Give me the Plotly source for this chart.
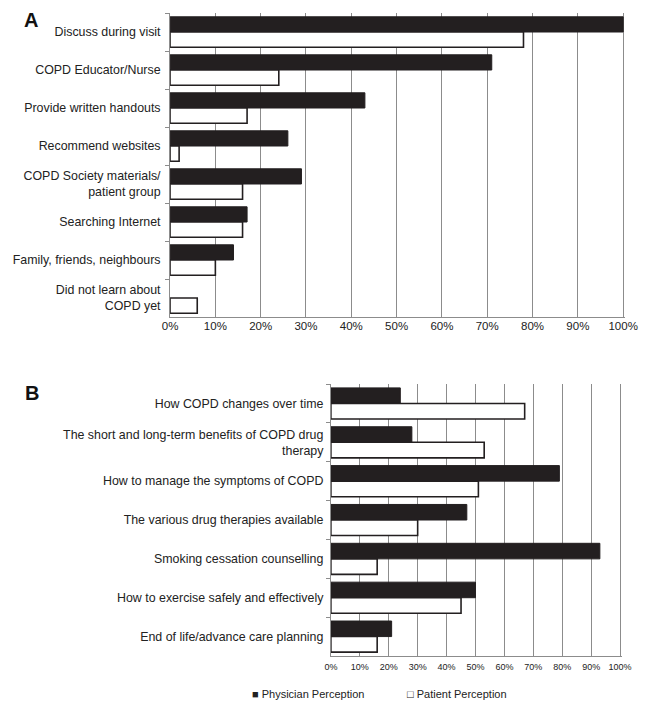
import plotly.graph_objects as go

W, H = 659, 710
OFF = 8  # page body margin
FW, FH = W - 2 * OFF, H - 2 * OFF

# Panel A data
cats_a = ["Discuss during visit", "COPD Educator/Nurse", "Provide written handouts",
          "Recommend websites", "COPD Society materials/<br>patient group",
          "Searching Internet", "Family, friends, neighbours",
          "Did not learn about<br>COPD yet"]
phys_a = [100, 71, 43, 26, 29, 17, 14, 0]
pat_a = [78, 24, 17, 2, 16, 16, 10, 6]

# Panel B data
cats_b = ["How COPD changes over time",
          "The short and long-term benefits of COPD drug<br>therapy",
          "How to manage the symptoms of COPD",
          "The various drug therapies available",
          "Smoking cessation counselling",
          "How to exercise safely and effectively",
          "End of life/advance care planning"]
phys_b = [24, 28, 79, 47, 93, 50, 21]
pat_b = [67, 53, 51, 30, 16, 45, 16]

tick_vals = [0, 10, 20, 30, 40, 50, 60, 70, 80, 90, 100]
tick_text = [f"{v}%" for v in tick_vals]

DARK = "#231f20"
GRID = "#8c8c8c"
TXT = "#222222"
FONT = "Arial, Liberation Sans, sans-serif"

def px_x(p):
    return (p - OFF) / FW

def px_y(p):
    return 1 - (p - OFF) / FH

def lw(vals, w):
    return [w if v > 0 else 0 for v in vals]

fig = go.Figure()

fig.add_trace(go.Bar(y=cats_a, x=phys_a, orientation="h", name="Physician Perception",
                     marker=dict(color=DARK, line=dict(color=DARK, width=lw(phys_a, 1))),
                     xaxis="x", yaxis="y", showlegend=False))
fig.add_trace(go.Bar(y=cats_a, x=pat_a, orientation="h", name="Patient Perception",
                     marker=dict(color="white", line=dict(color=DARK, width=lw(pat_a, 1.6))),
                     xaxis="x", yaxis="y", showlegend=False))
fig.add_trace(go.Bar(y=cats_b, x=phys_b, orientation="h", name="Physician Perception",
                     marker=dict(color=DARK, line=dict(color=DARK, width=lw(phys_b, 1))),
                     xaxis="x2", yaxis="y2", showlegend=False))
fig.add_trace(go.Bar(y=cats_b, x=pat_b, orientation="h", name="Patient Perception",
                     marker=dict(color="white", line=dict(color=DARK, width=lw(pat_b, 1.6))),
                     xaxis="x2", yaxis="y2", showlegend=False))

xcommon = dict(range=[0, 100.5], tickmode="array", tickvals=tick_vals, ticktext=tick_text,
               showgrid=True, gridcolor=GRID, gridwidth=1, showline=True, linecolor=GRID,
               linewidth=1, zeroline=False, ticks="", fixedrange=True)
ycommon = dict(autorange="reversed", showline=True, linecolor=GRID, linewidth=1,
               ticks="outside", ticklen=4, tickcolor=GRID, tickson="boundaries",
               showgrid=False, fixedrange=True)

fig.update_layout(
    width=FW, height=FH,
    margin=dict(l=0, r=0, t=0, b=0),
    paper_bgcolor="white", plot_bgcolor="white",
    barmode="group", bargap=0.2, bargroupgap=0.0,
    font=dict(family=FONT, color=TXT),
    showlegend=False,
    xaxis=dict(domain=[px_x(167), px_x(637)], anchor="y", ticklabelstandoff=-2,
               tickfont=dict(size=11.5, color=TXT), **xcommon),
    yaxis=dict(domain=[px_y(317), px_y(13)], anchor="x", ticklabelstandoff=6,
               tickfont=dict(size=12.4, color=TXT), **ycommon),
    xaxis2=dict(domain=[px_x(333), px_x(633)], anchor="y2", ticklabelstandoff=2,
                tickfont=dict(size=9, color=TXT), **xcommon),
    yaxis2=dict(domain=[px_y(656), px_y(384)], anchor="x2", ticklabelstandoff=4,
                tickfont=dict(size=12.4, color=TXT), **ycommon),
    annotations=[
        dict(text="<b>A</b>", x=px_x(15), y=1.0, xref="paper", yref="paper",
             xanchor="left", yanchor="top", showarrow=False, borderpad=0,
             font=dict(size=20, color="#111111", family=FONT)),
        dict(text="<b>B</b>", x=px_x(15), y=px_y(393), xref="paper", yref="paper",
             xanchor="left", yanchor="middle", showarrow=False,
             font=dict(size=20, color="#111111", family=FONT)),
        dict(text="■ Physician Perception", x=px_x(249), y=px_y(694), xref="paper",
             yref="paper", xanchor="left", yanchor="middle", showarrow=False,
             font=dict(size=11, color=TXT, family=FONT)),
        dict(text="□ Patient Perception", x=px_x(409), y=px_y(694), xref="paper",
             yref="paper", xanchor="left", yanchor="middle", showarrow=False,
             font=dict(size=11, color=TXT, family=FONT)),
    ],
)

fig.write_html("out.html")
